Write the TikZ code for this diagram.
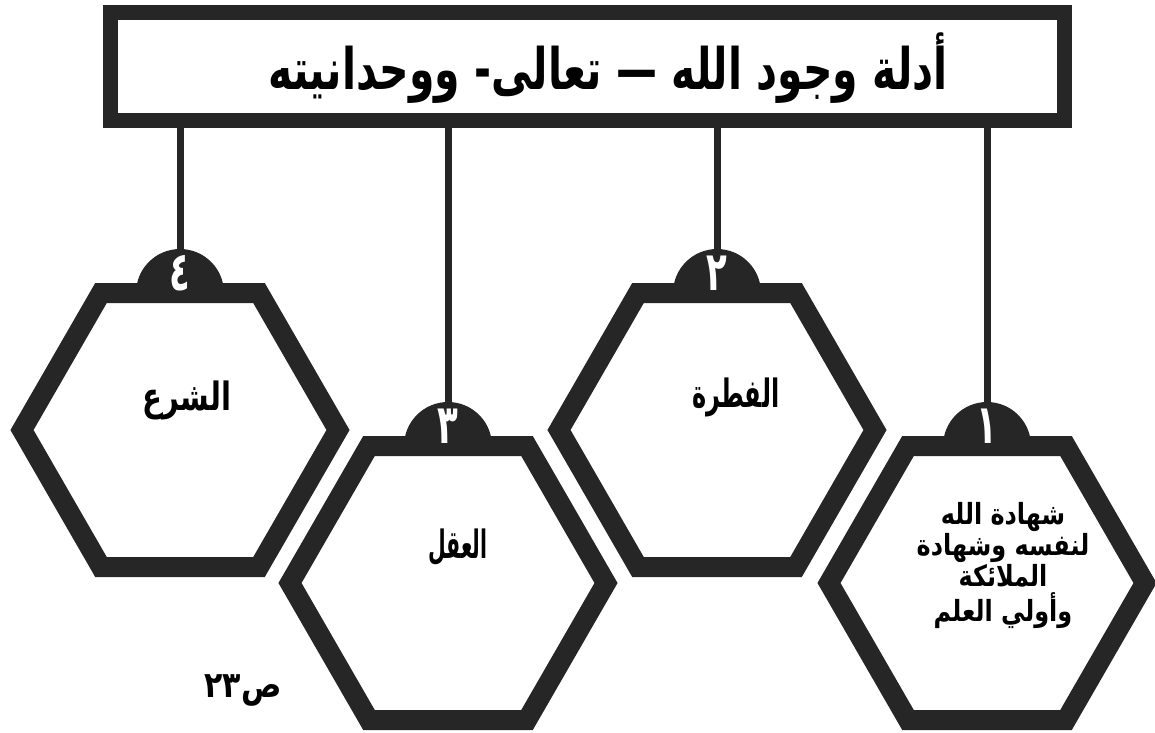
\documentclass[tikz,border=0pt]{standalone}
\usepackage{graphicx}
\usepackage{fontspec}
\TeXXeTstate=1
\newfontfamily\ar[Script=Arabic]{DejaVu Sans}
\definecolor{inkc}{RGB}{38,38,38}
\newcommand\stretchbox[2]{\scalebox{#1}[#2]}
\newcommand\hexagonat[1]{%
  \draw[hexa] ([shift={(-158,0)}]#1) -- ([shift={(-79,-137)}]#1) -- ([shift={(79,-137)}]#1)
   -- ([shift={(158,0)}]#1) -- ([shift={(79,137)}]#1) -- ([shift={(-79,137)}]#1) -- cycle;}
\newcommand\badge[2]{%
  \fill[inkc] ([shift={(-44pt,0pt)}]#1) arc[start angle=180,end angle=0,radius=44pt] -- cycle;
  \node[digit] at ([shift={(0,-20)}]#1) {\stretchbox{1}{1.6}{\beginR #2\endR}};}
\begin{document}
\begin{tikzpicture}[x=1pt,y=-1pt,
  hexa/.style={draw=inkc,line width=20pt,fill=white,line join=miter},
  titlebox/.style={draw=inkc,line width=15pt,fill=white,minimum width=954pt,minimum height=108pt,inner sep=0pt},
  link/.style={draw=inkc,line width=7pt},
  digit/.style={text=white,font=\ar\bfseries\fontsize{34}{40}\selectfont,inner sep=0pt},
  lbl/.style={text=black,font=\ar\bfseries\fontsize{30}{34}\selectfont,align=center,inner sep=0pt}]
\useasboundingbox (0,0) rectangle (1155,732);
\clip (0,0) rectangle (1155,732);
\fill[white] (0,0) rectangle (1155,732);
% centres
\coordinate (h4) at (180,430);
\coordinate (h2) at (717,430);
\coordinate (h3) at (448,583);
\coordinate (h1) at (987,583);
\coordinate (c4) at (180,293);
\coordinate (c2) at (717,293);
\coordinate (c3) at (448,446);
\coordinate (c1) at (987,446);
\node[titlebox] (title) at (587.5,66.5) {};
% links
\foreach \c in {c4,c2,c3,c1} {\draw[link] (title.south -| \c) -- (\c);}
\node[titlebox] at (587.5,66.5) {};
\node[font=\ar\bfseries\fontsize{44}{48}\selectfont,inner sep=0pt] (ttext) at (608,68)
  {\stretchbox{0.93}{1.3}{\beginR أدلة وجود الله — تعالى- ووحدانيته\endR}};
% hexagons
\hexagonat{h4}
\hexagonat{h2}
\hexagonat{h3}
\hexagonat{h1}
\badge{c4}{٤}
\badge{c2}{٢}
\badge{c3}{٣}
\badge{c1}{١}
\node[lbl] (t4) at (187,400) {\stretchbox{0.97}{1.3}{\beginR الشرع\endR}};
\node[lbl] (t2) at (736,397) {\stretchbox{0.8}{1.3}{\beginR الفطرة\endR}};
\node[lbl] (t3) at (458,547) {\stretchbox{0.68}{1.3}{\beginR العقل\endR}};
\node[lbl,font=\ar\bfseries\fontsize{26}{33}\selectfont] (t1) at (1003,565)
  {\stretchbox{0.92}{1.12}{\beginR شهادة الله\endR}\\[-2pt]\stretchbox{0.92}{1.12}{\beginR لنفسه وشهادة\endR}\\[-2pt]\stretchbox{0.92}{1.12}{\beginR الملائكة\endR}\\[2pt]\stretchbox{0.92}{1.12}{\beginR وأولي العلم\endR}};
\node[lbl,font=\ar\bfseries\fontsize{30}{34}\selectfont] (page) at (243,690) {\stretchbox{1}{1.2}{\beginR ص٢٣\endR}};
\end{tikzpicture}
\end{document}
